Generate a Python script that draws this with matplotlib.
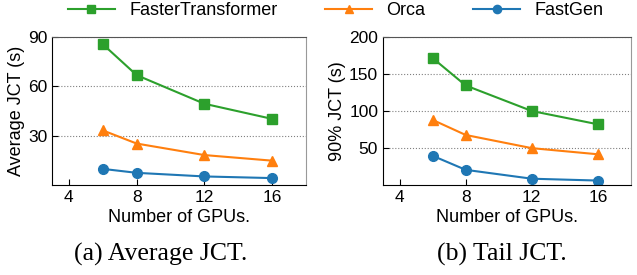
import matplotlib.pyplot as plt

gpus = [6, 8, 12, 16]

# average JCT (s)
avg_ft = [85.6, 66.8, 49.4, 40.2]
avg_orca = [33.2, 25.2, 18.2, 14.8]
avg_fastgen = [9.8, 7.4, 5.2, 4.2]

# 90% tail JCT (s)
tail_ft = [171.6, 134.5, 100.0, 82.0]
tail_orca = [88.0, 67.6, 49.8, 41.5]
tail_fastgen = [39.5, 20.5, 8.5, 6.0]

labels = ['FasterTransformer', 'Orca', 'FastGen']
colors = ['#2ca02c', '#ff7f0e', '#1f77b4']
markers = ['s', '^', 'o']

plt.rcParams['font.family'] = ['Liberation Sans', 'DejaVu Sans']

fig = plt.figure(figsize=(6.37, 2.75), dpi=100)
ax1 = fig.add_axes([52/637, 1-185/275, 254/637, 148/275])
ax2 = fig.add_axes([383/637, 1-185/275, 248/637, 148/275])

def draw(ax, series, ylim, yticks, ylabel):
    for vals, lab, c, m in zip(series, labels, colors, markers):
        ax.plot(gpus, vals, color=c, marker=m, markersize=7, lw=1.5, label=lab)
    ax.set_xlim(3, 18)
    ax.set_ylim(*ylim)
    ax.set_xticks([4, 8, 12, 16])
    ax.set_yticks(yticks)
    ax.grid(axis='y', ls=':', color='gray', lw=0.8)
    ax.set_axisbelow(True)
    ax.tick_params(direction='in', labelsize=12.5, length=4)
    ax.set_ylabel(ylabel, fontsize=13, labelpad=2)
    ax.set_xlabel('Number of GPUs.', fontsize=13, labelpad=3)
    ax.spines['top'].set_color('#555555')
    ax.spines['right'].set_color('#999999')

draw(ax1, [avg_ft, avg_orca, avg_fastgen], (0, 90), [30, 60, 90], 'Average JCT (s)')
draw(ax2, [tail_ft, tail_orca, tail_fastgen], (0, 200), [50, 100, 150, 200], '90% JCT (s)')

h, l = ax1.get_legend_handles_labels()
fig.legend(h, l, loc='center', bbox_to_anchor=(0.527, 0.962), ncol=3, frameon=False,
           fontsize=13, handlelength=2.6, handletextpad=0.8, columnspacing=2.65,
           borderaxespad=0, markerscale=0.85)

fig.text(161/637, 1-254/275, '(a) Average JCT.', ha='center', va='center',
         fontsize=18.5, family='Liberation Serif')
fig.text(502/637, 1-254/275, '(b) Tail JCT.', ha='center', va='center',
         fontsize=18.5, family='Liberation Serif')

fig.savefig('out.png', dpi=100)
